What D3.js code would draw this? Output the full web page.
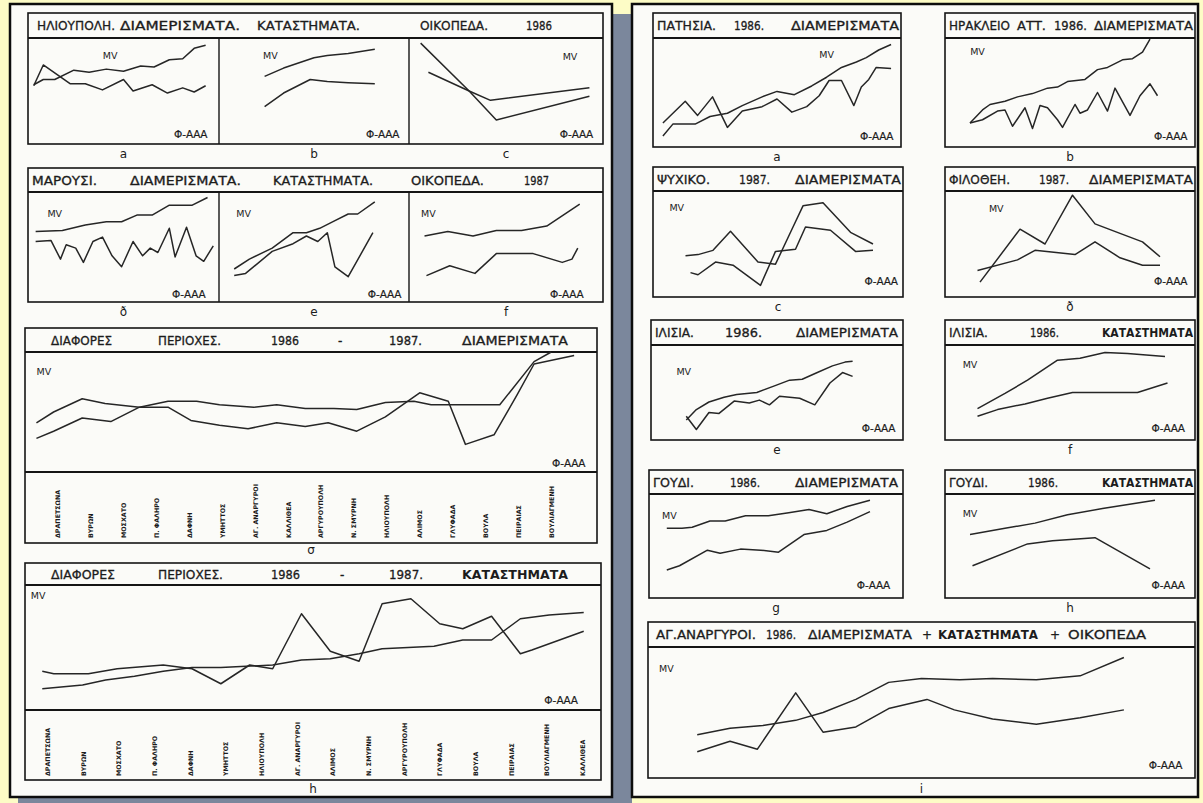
<!DOCTYPE html>
<html>
<head>
<meta charset="utf-8">
<script src="https://cdn.jsdelivr.net/npm/d3@7"></script>
<style>
body { margin: 0; background: #fdfcc6; }
svg { display: block; }
text { font-family: "DejaVu Sans", sans-serif; fill: #1c1c1c; }
</style>
</head>
<body>
<svg width="1203" height="803"></svg>
<script>
// values, x and y both in 0-100 units of each little plot
var ilioFlatsMV = [[3,57],[8,62],[14,62],[24,71],[32,69],[41,72],[50,70],[59,75],[66,74],[74,81],[81,82],[87,92],[93,95]];
var ilioFlatsPhi = [[3,56],[8,76],[22,58],[30,58],[39,52],[50,62],[55,51],[65,57],[73,49],[81,54],[87,50],[93,56]];
var ilioShopsMV = [[24,65],[34,73],[50,83],[57,85],[68,87],[82,91]];
var ilioShopsPhi = [[24,36],[34,49],[48,62],[57,60],[68,59],[82,58]];
var ilioLandMV = [[6,97],[31,51],[45,23],[93,46]];
var ilioLandPhi = [[10,69],[31,51],[42,42],[93,54]];

var marFlatsMV = [[4,64],[18,65],[30,70],[41,73],[49,73],[57,79],[65,79],[74,88],[86,88],[94,95]];
var marFlatsPhi = [[4,55],[12,56],[17,39],[20,52],[25,49],[29,36],[34,55],[39,59],[44,42],[49,32],[55,55],[60,42],[64,49],[68,45],[74,67],[77,41],[83,68],[88,42],[92,37],[97,51]];
var marShopsMV = [[8,30],[16,39],[28,49],[39,63],[46,63],[53,67],[60,73],[68,80],[73,80],[82,91]];
var marShopsPhi = [[8,24],[14,26],[28,46],[39,53],[46,60],[52,55],[57,63],[61,32],[68,23],[81,63]];
var marLandMV = [[8,60],[20,64],[33,60],[45,65],[58,65],[71,69],[88,89]];
var marLandPhi = [[9,24],[21,33],[34,26],[45,44],[64,44],[79,36],[84,39],[87,49]];

var variousFlatsA = [[2,41],[5,50],[10,61],[14,57],[20,54],[25,54],[29,43],[34,39],[39,36],[44,41],[49,38],[53,41],[58,34],[63,46],[69,66],[74,59],[77,23],[82,31],[86,64],[89,90],[96,97]];
var variousFlatsB = [[2,28],[5,34],[10,45],[15,42],[20,54],[25,59],[30,59],[34,56],[40,54],[44,56],[49,53],[54,53],[58,52],[63,58],[68,59],[71,56],[83,56],[89,92],[92,100]];
var variousShopsA = [[3,31],[5,29],[11,29],[16,33],[24,36],[29,33],[34,21],[39,36],[43,33],[48,77],[53,47],[58,39],[62,85],[67,89],[72,69],[76,65],[81,75],[86,45],[88,48],[97,63]];
var variousShopsB = [[3,17],[10,20],[14,24],[19,27],[24,31],[29,34],[34,34],[43,36],[48,40],[53,41],[58,45],[62,49],[71,51],[76,56],[81,56],[86,73],[91,76],[97,78]];

var flatsAreas = ["ΔΡΑΠΕΤΣΩΝΑ","ΒΥΡΩΝ","ΜΟΣΧΑΤΟ","Π. ΦΑΛΗΡΟ","ΔΑΦΝΗ","ΥΜΗΤΤΟΣ","ΑΓ. ΑΝΑΡΓΥΡΟΙ","ΚΑΛΛΙΘΕΑ","ΑΡΓΥΡΟΥΠΟΛΗ","Ν. ΣΜΥΡΝΗ","ΗΛΙΟΥΠΟΛΗ","ΑΛΙΜΟΣ","ΓΛΥΦΑΔΑ","ΒΟΥΛΑ","ΠΕΙΡΑΙΑΣ","ΒΟΥΛΙΑΓΜΕΝΗ"];
var shopsAreas = ["ΔΡΑΠΕΤΣΩΝΑ","ΒΥΡΩΝ","ΜΟΣΧΑΤΟ","Π. ΦΑΛΗΡΟ","ΔΑΦΝΗ","ΥΜΗΤΤΟΣ","ΗΛΙΟΥΠΟΛΗ","ΑΓ. ΑΝΑΡΓΥΡΟΙ","ΑΛΙΜΟΣ","Ν. ΣΜΥΡΝΗ","ΑΡΓΥΡΟΥΠΟΛΗ","ΓΛΥΦΑΔΑ","ΒΟΥΛΑ","ΠΕΙΡΑΙΑΣ","ΒΟΥΛΙΑΓΜΕΝΗ","ΚΑΛΛΙΘΕΑ"];

var patisiaMV = [[4,10],[8,21],[17,21],[23,28],[30,31],[36,38],[44,46],[50,51],[57,48],[64,56],[70,64],[76,73],[82,78],[86,82],[91,89],[96,94]];
var patisiaPhi = [[4,22],[13,42],[18,29],[24,46],[30,18],[36,33],[44,37],[50,44],[56,32],[62,37],[67,47],[71,61],[76,61],[81,38],[84,55],[87,62],[90,73],[96,72]];
var irakleioMV = [[10,22],[15,34],[18,39],[24,42],[29,46],[35,49],[41,54],[45,55],[49,60],[56,62],[61,71],[65,73],[71,80],[75,81],[79,87],[82,99]];
var irakleioPhi = [[10,22],[15,25],[21,33],[24,34],[27,19],[32,36],[35,17],[38,38],[41,36],[45,25],[47,18],[52,39],[54,31],[57,34],[61,50],[65,33],[68,54],[74,29],[78,47],[82,58],[85,47]];
var psychikoMV = [[13,39],[18,40],[24,44],[31,62],[42,33],[49,31],[56,66],[60,86],[68,89],[79,61],[88,50]];
var psychikoPhi = [[15,23],[18,21],[25,33],[32,30],[43,11],[49,43],[57,45],[61,66],[71,63],[81,43],[88,44]];
var filotheiMV = [[14,14],[30,64],[40,50],[51,96],[60,69],[70,60],[79,52],[86,38]];
var filotheiPhi = [[13,25],[29,35],[36,44],[52,40],[60,52],[70,37],[79,30],[86,30]];
var ilisiaFlatsMV = [[14,21],[18,32],[23,40],[29,45],[34,48],[42,50],[49,57],[55,63],[60,64],[66,71],[72,78],[77,82],[80,83]];
var ilisiaFlatsPhi = [[14,25],[18,11],[23,29],[27,28],[33,41],[39,39],[43,42],[47,37],[51,46],[59,44],[65,37],[71,60],[76,71],[80,67]];
var ilisiaShopsMV = [[13,33],[24,49],[33,63],[45,84],[54,86],[64,92],[73,91],[88,88]];
var ilisiaShopsPhi = [[13,25],[21,32],[32,38],[41,44],[51,50],[61,50],[77,50],[89,60]];
var goudiFlatsMV = [[7,67],[13,67],[17,68],[24,74],[30,74],[38,79],[47,79],[55,82],[63,85],[70,81],[78,88],[87,94]];
var goudiFlatsPhi = [[7,27],[12,31],[23,46],[28,43],[36,47],[44,46],[51,44],[61,61],[70,65],[78,73],[87,83]];
var goudiShopsMV = [[10,61],[24,67],[36,72],[49,80],[63,86],[84,94]];
var goudiShopsPhi = [[11,31],[33,52],[43,55],[60,58],[82,28]];
var anargyroiMV = [[9,33],[15,38],[21,40],[27,44],[32,50],[38,60],[44,73],[50,76],[57,75],[63,76],[71,75],[79,78],[87,92]];
var anargyroiPhi = [[9,20],[15,28],[20,22],[27,65],[32,35],[38,39],[44,53],[51,60],[56,52],[63,45],[71,41],[79,46],[87,52]];

// boxes with their title words [text, x start, x end, bold]
var frames = [
	{box:[28,13,603,144], ty:38, base:30, divs:[219,409],
	 words:[["ΗΛΙΟΥΠΟΛΗ.",37,115],["ΔΙΑΜΕΡΙΣΜΑΤΑ.",120,240],["ΚΑΤΑΣΤΗΜΑΤΑ.",257,360],["ΟΙΚΟΠΕΔΑ.",420,488],["1986",526,552]]},
	{box:[28,168,603,302], ty:192, base:185, divs:[219,409],
	 words:[["ΜΑΡΟΥΣΙ.",32,97],["ΔΙΑΜΕΡΙΣΜΑΤΑ.",130,241],["ΚΑΤΑΣΤΗΜΑΤΑ.",273,373],["ΟΙΚΟΠΕΔΑ.",411,484],["1987",524,549]]},
	{box:[25,328,597,543], ty:352, base:345, strip:472,
	 words:[["ΔΙΑΦΟΡΕΣ",51,112],["ΠΕΡΙΟΧΕΣ.",158,221],["1986",271,299],["-",338],["1987.",389,422],["ΔΙΑΜΕΡΙΣΜΑΤΑ",462,568]]},
	{box:[25,563,601,780], ty:585, base:579, strip:710,
	 words:[["ΔΙΑΦΟΡΕΣ",51,115],["ΠΕΡΙΟΧΕΣ.",158,223],["1986",271,300],["-",340],["1987.",389,423],["ΚΑΤΑΣΤΗΜΑΤΑ",462,568,true]]},
	{box:[653,13,901,147], ty:38, base:30,
	 words:[["ΠΑΤΗΣΙΑ.",657,716],["1986.",734,764],["ΔΙΑΜΕΡΙΣΜΑΤΑ",791,899]]},
	{box:[945,13,1195,147], ty:38, base:30,
	 words:[["ΗΡΑΚΛΕΙΟ",949,1010],["ΑΤΤ.",1017,1046],["1986.",1054,1087],["ΔΙΑΜΕΡΙΣΜΑΤΑ",1094,1193]]},
	{box:[653,167,903,297], ty:191, base:184,
	 words:[["ΨΥΧΙΚΟ.",657,710],["1987.",739,770],["ΔΙΑΜΕΡΙΣΜΑΤΑ",795,901]]},
	{box:[945,167,1195,297], ty:191, base:184,
	 words:[["ΦΙΛΟΘΕΗ.",949,1010],["1987.",1039,1069],["ΔΙΑΜΕΡΙΣΜΑΤΑ",1089,1193]]},
	{box:[651,320,903,440], ty:345, base:337,
	 words:[["ΙΛΙΣΙΑ.",655,694],["1986.",725,762],["ΔΙΑΜΕΡΙΣΜΑΤΑ",796,898]]},
	{box:[945,320,1195,440], ty:345, base:337,
	 words:[["ΙΛΙΣΙΑ.",949,988],["1986.",1030,1059],["ΚΑΤΑΣΤΗΜΑΤΑ",1102,1193,true]]},
	{box:[649,470,903,598], ty:494, base:487,
	 words:[["ΓΟΥΔΙ.",653,694],["1986.",730,760],["ΔΙΑΜΕΡΙΣΜΑΤΑ",795,898]]},
	{box:[945,470,1195,598], ty:494, base:487,
	 words:[["ΓΟΥΔΙ.",949,988],["1986.",1028,1058],["ΚΑΤΑΣΤΗΜΑΤΑ",1102,1193,true]]},
	{box:[648,622,1195,778], ty:647, base:639,
	 words:[["ΑΓ.ΑΝΑΡΓΥΡΟΙ.",656,756],["1986.",766,796],["ΔΙΑΜΕΡΙΣΜΑΤΑ",808,912],["+",922],["ΚΑΤΑΣΤΗΜΑΤΑ",938,1038,true],["+",1050],["ΟΙΚΟΠΕΔΑ",1068,1146]]}
];

// plot areas: x0, x1, top, bottom, series, MV label, Φ-ΑΑΑ label, caption
var plots = [
	{x0:28, x1:219, y0:40, y1:144, s:[ilioFlatsMV, ilioFlatsPhi], mv:[43,82,"middle"], phi:[94,6], cap:"a"},
	{x0:219, x1:409, y0:40, y1:144, s:[ilioShopsMV, ilioShopsPhi], mv:[27,82,"middle"], phi:[95,6], cap:"b"},
	{x0:409, x1:603, y0:40, y1:144, s:[ilioLandMV, ilioLandPhi], mv:[83,81,"middle"], phi:[95,6], cap:"c"},
	{x0:28, x1:219, y0:192, y1:302, s:[marFlatsMV, marFlatsPhi], mv:[14,77,"middle"], phi:[93,4], cap:"ð"},
	{x0:219, x1:409, y0:192, y1:302, s:[marShopsMV, marShopsPhi], mv:[13,77,"middle"], phi:[96,4], cap:"e"},
	{x0:409, x1:603, y0:192, y1:302, s:[marLandMV, marLandPhi], mv:[10,77,"middle"], phi:[90,4], cap:"f"},
	{x0:25, x1:597, y0:352, y1:472, s:[variousFlatsA, variousFlatsB], mv:[2,81,"start"], phi:[98,4], cap:"σ", labels:flatsAreas, lab:[5.7,92.2], capY:554},
	{x0:25, x1:601, y0:585, y1:710, s:[variousShopsA, variousShopsB], mv:[1,89,"start"], phi:[96,5], cap:"h", labels:shopsAreas, lab:[4,96.9], capY:793},
	{x0:653, x1:901, y0:38, y1:147, s:[patisiaMV, patisiaPhi], mv:[70,82,"middle"], phi:[97,6], cap:"a"},
	{x0:945, x1:1195, y0:38, y1:147, s:[irakleioMV, irakleioPhi], mv:[13,84,"middle"], phi:[97,6], cap:"b"},
	{x0:653, x1:903, y0:191, y1:297, s:[psychikoMV, psychikoPhi], mv:[9.5,81,"middle"], phi:[98,11], cap:"c"},
	{x0:945, x1:1195, y0:191, y1:297, s:[filotheiMV, filotheiPhi], mv:[20.5,80,"middle"], phi:[97,11], cap:"ð"},
	{x0:651, x1:903, y0:345, y1:440, s:[ilisiaFlatsMV, ilisiaFlatsPhi], mv:[13,68,"middle"], phi:[97,8], cap:"e"},
	{x0:945, x1:1195, y0:345, y1:440, s:[ilisiaShopsMV, ilisiaShopsPhi], mv:[10,76,"middle"], phi:[96,8], cap:"f"},
	{x0:649, x1:903, y0:494, y1:598, s:[goudiFlatsMV, goudiFlatsPhi], mv:[8,76,"middle"], phi:[95,9], cap:"g"},
	{x0:945, x1:1195, y0:494, y1:598, s:[goudiShopsMV, goudiShopsPhi], mv:[10,78,"middle"], phi:[96,9], cap:"h"},
	{x0:648, x1:1195, y0:647, y1:778, s:[anargyroiMV, anargyroiPhi], mv:[2,81,"start"], phi:[97.7,7], cap:"i", capY:793}
];

var svg = d3.select("svg");

// the two scanned pages, with their grey shadows
var pages = [[10,4,602,793],[632,4,566,793]];
svg.append("rect").attr("x",612).attr("y",14).attr("width",20).attr("height",789).attr("fill","#7b879c");
svg.append("rect").attr("x",18).attr("y",797).attr("width",594).attr("height",6).attr("fill","#7b879c");
svg.selectAll("rect.page")
	.data(pages)
	.enter()
	.append("rect")
	.attr("class","page")
	.attr("x", function(d){ return d[0]; })
	.attr("y", function(d){ return d[1]; })
	.attr("width", function(d){ return d[2]; })
	.attr("height", function(d){ return d[3]; })
	.attr("fill","#fbfbf8")
	.attr("stroke","#0d0d0d")
	.attr("stroke-width",2.5);

// frames
frames.forEach(function(f){
	var b = f.box;
	var g = svg.append("g");
	g.append("rect")
		.attr("x",b[0]).attr("y",b[1])
		.attr("width",b[2]-b[0]).attr("height",b[3]-b[1])
		.attr("fill","none").attr("stroke","#151515").attr("stroke-width",1.6);
	g.append("line").attr("x1",b[0]).attr("x2",b[2]).attr("y1",f.ty).attr("y2",f.ty)
		.attr("stroke","#151515").attr("stroke-width",2);
	if (f.strip) {
		g.append("line").attr("x1",b[0]).attr("x2",b[2]).attr("y1",f.strip).attr("y2",f.strip)
			.attr("stroke","#151515").attr("stroke-width",1.8);
	}
	(f.divs || []).forEach(function(x){
		g.append("line").attr("x1",x).attr("x2",x).attr("y1",f.ty).attr("y2",b[3])
			.attr("stroke","#151515").attr("stroke-width",1.4);
	});
	g.selectAll("text")
		.data(f.words)
		.enter()
		.append("text")
		.text(function(d){ return d[0]; })
		.attr("x", function(d){ return d[1]; })
		.attr("y", f.base)
		.attr("font-size", 12)
		.attr("font-weight", function(d){ return d[3] ? "bold" : "normal"; })
		.attr("stroke", "#1c1c1c")
		.attr("stroke-width", function(d){ return d[3] ? 0 : 0.3; })
		.each(function(d){
			if (d[2]) d3.select(this).attr("textLength", d[2]-d[1]).attr("lengthAdjust","spacingAndGlyphs");
		});
});

// the little line charts
plots.forEach(function(p){
	var x = d3.scaleLinear().domain([0,100]).range([p.x0, p.x1]);
	var y = d3.scaleLinear().domain([0,100]).range([p.y1, p.y0]);
	var line = d3.line().x(function(d){ return x(d[0]); }).y(function(d){ return y(d[1]); });
	var g = svg.append("g");

	g.selectAll("path")
		.data(p.s)
		.enter()
		.append("path")
		.attr("d", line)
		.attr("fill","none")
		.attr("stroke","#262626")
		.attr("stroke-width",1.5)
		.attr("stroke-linejoin","round");

	g.append("text").text("MV")
		.attr("x", x(p.mv[0])).attr("y", y(p.mv[1]))
		.attr("text-anchor", p.mv[2])
		.attr("font-size", 9.5);

	g.append("text").text("Φ-ΑΑΑ")
		.attr("x", x(p.phi[0])).attr("y", y(p.phi[1]))
		.attr("text-anchor","end")
		.attr("font-size", 10.5)
		.attr("stroke","#1c1c1c").attr("stroke-width",0.2);

	g.append("text").text(p.cap)
		.attr("x", (p.x0 + p.x1) / 2)
		.attr("y", p.capY || p.y1 + 14)
		.attr("text-anchor","middle")
		.attr("font-size", 12);

	// area names, standing upright in the strip under the plot
	if (p.labels) {
		var xl = d3.scalePoint().domain(p.labels).range([x(p.lab[0]), x(p.lab[1])]);
		var bottom = p.y1 + 66;
		g.selectAll("text.area")
			.data(p.labels)
			.enter()
			.append("text")
			.attr("class","area")
			.text(function(d){ return d; })
			.attr("transform", function(d){ return "translate(" + (xl(d) + 2) + "," + bottom + ") rotate(-90)"; })
			.attr("font-family","DejaVu Sans Condensed, DejaVu Sans, sans-serif")
			.attr("font-weight","bold")
			.attr("font-size", 6.3);
	}
});
</script>
</body>
</html>
